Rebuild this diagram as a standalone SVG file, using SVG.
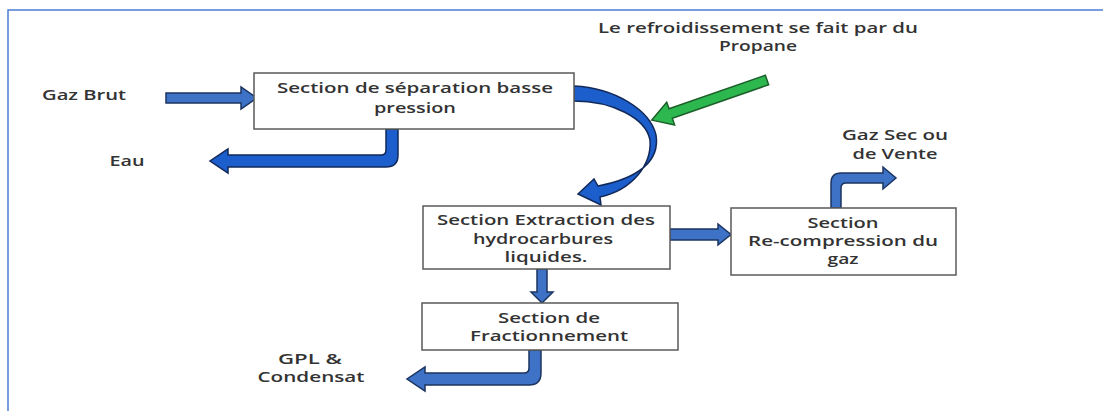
<svg xmlns="http://www.w3.org/2000/svg" width="1103" height="411" viewBox="0 0 1103 411">
<style>
  text{font-family:"Open Sans","Liberation Sans",sans-serif;font-size:14px;font-weight:600;fill:#333;text-anchor:middle;dominant-baseline:central}
  .box{fill:#fff;stroke:#5a5a5a;stroke-width:1.5}
  .arr{fill:#3d72c6;stroke:#1b3460;stroke-width:1.5;stroke-linejoin:miter}
  .arr2{fill:#1c5ecb;stroke:#12295a;stroke-width:1.5}
  .grn{fill:#2db84f;stroke:#1d5f2a;stroke-width:1.5}
</style>
<rect x="8" y="10" width="1200" height="500" fill="none" stroke="#4a7ed6" stroke-width="1.5"/>

<g id="connectors">
  <path class="arr" d="M166,93 L241,93 L241,87 L257,98 L241,109 L241,103 L166,103 Z"/>
  <path class="arr2" d="M386,129 L386,150 Q386,155 381,155 L228,155 L228,149 L210,161 L228,173 L228,167 L386,167 Q398,167 398,155 L398,129 Z"/>
  <path class="arr2" d="M574,86 C615,88 650,110 656,135 C660,160 640,178 598,186 L594,179 L578,194 L601,205 L600,197 C632,190 652,165 650,140 C646,118 612,101 574,101 Z"/>
  <g transform="translate(767,80) rotate(160.8)">
    <path class="grn" d="M0,-5 L102,-5 L102,-12 L122,0 L102,12 L102,5 L0,5 Z"/>
  </g>
  <path class="arr" d="M670,229 L718,229 L718,224 L731,234.5 L718,245 L718,240 L670,240 Z"/>
  <path class="arr" d="M831,208 L831,183 Q831,173 841,173 L883,173 L883,167 L896,178 L883,189 L883,183 L846,183 Q841,183 841,188 L841,208 Z"/>
  <path class="arr" d="M537,269 L537,292 L531,292 L542,303 L553,292 L547,292 L547,269 Z"/>
  <path class="arr" d="M529,350 L529,368 Q529,373 524,373 L425,373 L425,367 L407,379 L425,391 L425,385 L529,385 Q541,385 541,373 L541,350 Z"/>
</g>

<g id="label-refroid">
  <text x="758" y="27" textLength="320" lengthAdjust="spacingAndGlyphs">Le refroidissement se fait par du</text>
  <text x="758" y="45" textLength="78" lengthAdjust="spacingAndGlyphs" style="font-size:15px">Propane</text>
</g>
<g id="label-gazbrut"><text x="84" y="94" textLength="84" lengthAdjust="spacingAndGlyphs">Gaz Brut</text></g>
<g id="label-eau"><text x="127" y="160" textLength="35" lengthAdjust="spacingAndGlyphs">Eau</text></g>
<g id="label-gazsec">
  <text x="895" y="134" textLength="106" lengthAdjust="spacingAndGlyphs">Gaz Sec ou</text>
  <text x="895" y="153" textLength="85" lengthAdjust="spacingAndGlyphs">de Vente</text>
</g>
<g id="label-gpl">
  <text x="310" y="358" textLength="64" lengthAdjust="spacingAndGlyphs">GPL &amp;</text>
  <text x="311" y="376" textLength="107" lengthAdjust="spacingAndGlyphs">Condensat</text>
</g>

<g id="node-separation">
  <rect class="box" x="254" y="73" width="320" height="56"/>
  <text x="415" y="87" textLength="276" lengthAdjust="spacingAndGlyphs">Section de séparation basse</text>
  <text x="415" y="107" textLength="82" lengthAdjust="spacingAndGlyphs">pression</text>
</g>
<g id="node-extraction">
  <rect class="box" x="423" y="206" width="247" height="63"/>
  <text x="546" y="219" textLength="218" lengthAdjust="spacingAndGlyphs">Section Extraction des</text>
  <text x="543" y="238" textLength="140" lengthAdjust="spacingAndGlyphs">hydrocarbures</text>
  <text x="546" y="256" textLength="83" lengthAdjust="spacingAndGlyphs">liquides.</text>
</g>
<g id="node-recompression">
  <rect class="box" x="731" y="208" width="225" height="67"/>
  <text x="843" y="222" textLength="71" lengthAdjust="spacingAndGlyphs">Section</text>
  <text x="843" y="240" textLength="190" lengthAdjust="spacingAndGlyphs">Re-compression du</text>
  <text x="843" y="258" textLength="31" lengthAdjust="spacingAndGlyphs">gaz</text>
</g>
<g id="node-fractionnement">
  <rect class="box" x="422" y="303" width="256" height="47"/>
  <text x="549" y="317" textLength="102" lengthAdjust="spacingAndGlyphs">Section de</text>
  <text x="549" y="335" textLength="158" lengthAdjust="spacingAndGlyphs">Fractionnement</text>
</g>
</svg>
